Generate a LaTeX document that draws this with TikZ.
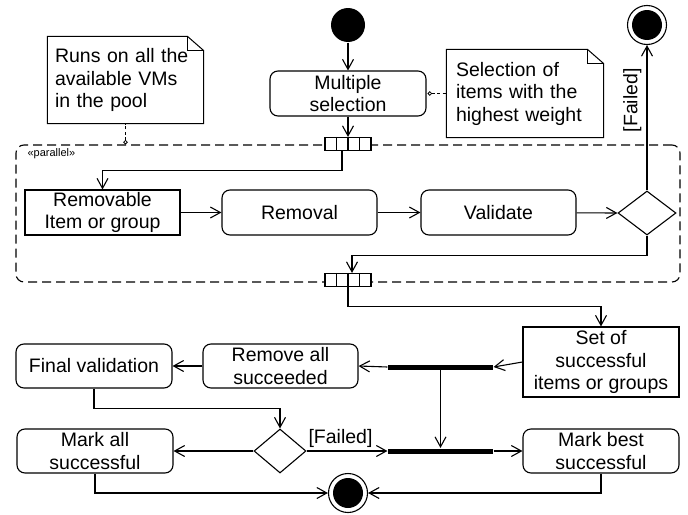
\documentclass[tikz,border=0pt]{standalone}
\usepackage{fontspec}
\setmainfont{Liberation Sans}
\usetikzlibrary{arrows.meta,shapes.geometric,calc}
\begin{document}
\begin{tikzpicture}[x=1pt,y=-1pt,line width=1.1pt,
  every node/.style={font=\fontsize{19.5}{22.5}\selectfont},
  act/.style={draw,rounded corners=8pt,minimum width=155pt,minimum height=44pt,align=center,inner sep=2pt},
  obj/.style={draw,minimum width=155pt,minimum height=45pt,align=center,inner sep=2pt},
  notebox/.style={text width=#1,align=left,inner ysep=4pt,inner xsep=8pt},
  dec/.style={draw,diamond,inner sep=0pt},
  bar/.style={fill=black,minimum width=105pt,minimum height=5pt,inner sep=0pt},
  expn/.style={draw,fill=white,minimum width=46pt,minimum height=13pt,inner sep=0pt},
  startnode/.style={circle,fill=black,minimum size=34pt,inner sep=0pt},
  endnode/.style={circle,draw,fill=white,minimum size=39pt,inner sep=0pt,
     path picture={\fill[black] (path picture bounding box.center) circle (15pt);}},
  arr/.style={-{Straight Barb[length=10pt,width=11pt]}},
  notelink/.style={line width=0.9pt,dash pattern=on 3pt off 2.5pt},
  notepath/.style={line width=1pt}
]
\useasboundingbox (0,0) rectangle (688,514);

% expansion region
\node[draw,dash pattern=on 9pt off 5pt,rounded corners=8pt,minimum width=664pt,minimum height=137pt,inner sep=0pt] (reg) at (348,213.5) {};
\node[anchor=north west,inner sep=0pt,font=\fontsize{11}{12}\selectfont] (par) at (27,148) {«parallel»};

% nodes
\node[startnode] (start) at (348,25) {};
\node[act,minimum width=156pt,minimum height=45pt] (ms) at (348,93.5) {Multiple\\selection};
\node[notebox=138pt,minimum height=87pt,inner xsep=9pt] (n1) at (525,93.5) {Selection of\\items with the\\highest weight};
\node[notebox=141pt,minimum height=86pt,inner xsep=7pt] (n2) at (125.5,80) {Runs on all the\\available VMs\\in the pool};

\node[expn] (e1) at (348,144) {};
\node[expn] (e2) at (348,280) {};

\node[obj] (rem) at (102.5,212.5) {Removable\\Item or group};
\node[act,minimum height=45pt] (removal) at (299.5,212.5) {Removal};
\node[act,minimum height=45pt] (val) at (498.5,212.5) {Validate};
\node[dec,minimum width=58pt,minimum height=44pt] (d1) at (647,213) {};
\node[endnode] (f1) at (647,25) {};

\node[obj,minimum width=156pt,minimum height=70pt] (set) at (601,362) {Set of\\successful\\items or groups};
\node[bar] (b1) at (440.5,367) {};
\node[act] (remall) at (280.5,366) {Remove all\\succeeded};
\node[act,minimum width=156pt] (finval) at (94,366) {Final validation};
\node[bar] (b2) at (440.5,451) {};
\node[act,minimum width=156pt] (best) at (601,451) {Mark best\\successful};
\node[dec,minimum width=52pt,minimum height=44pt] (d2) at (280,451) {};
\node[act,minimum width=156pt] (all) at (95,451) {Mark all\\successful};
\node[endnode] (f2) at (348,493) {};

% note outlines
\draw[notepath] (n1.north west) -- ([xshift=-16pt]n1.north east) -- ([yshift=-14pt]n1.north east) -- (n1.south east) -- (n1.south west) -- cycle;
\draw[notepath] ([xshift=-16pt]n1.north east) |- ([yshift=-14pt]n1.north east);
\draw[notepath] (n2.north west) -- ([xshift=-16pt]n2.north east) -- ([yshift=-14pt]n2.north east) -- (n2.south east) -- (n2.south west) -- cycle;
\draw[notepath] ([xshift=-16pt]n2.north east) |- ([yshift=-14pt]n2.north east);

% note links
\draw[notelink,{Circle[open,length=4.5pt,line width=0.8pt,sep=0pt]}-] ([xshift=1pt]ms.east) -- (n1.west);
\draw[notelink,{Circle[open,length=4.5pt,line width=0.8pt]}-] (n2.south |- reg.north) -- (n2.south);

% expansion node cells
\foreach \e in {e1,e2}
  \foreach \f in {0.25,0.5,0.75}
    \draw ($(\e.north west)!\f!(\e.north east)$) -- ($(\e.south west)!\f!(\e.south east)$);

% flows
\draw[arr] (start) -- (ms);
\draw[arr] (ms.south) -- (e1.north);
\draw[arr] ([xshift=-6pt]e1.south) -- ++(0,19) -| (rem.north);
\draw[arr] (rem) -- (removal);
\draw[arr] (removal) -- (val);
\draw[arr] (val) -- (d1.west);
\draw[arr] (d1.north) -- node[pos=0.62,rotate=90,anchor=south,inner sep=5pt] (lf1) {[Failed]} (f1.south);
\draw[arr] (d1.south) -- ++(0,20) -| ([xshift=4pt]e2.north);
\draw[arr] (e2.south) -- ++(0,19) -| (set.north);
\draw[arr] (set.west) -- (b1.east);
\draw[arr] (b1.west) -- (remall.east);
\draw[arr] (remall.west) -- (finval.east);
\draw[arr] (b1.south) -- (b2.north);
\draw[arr] (b2.east) -- (best.west);
\draw[arr] (finval.south) -- ++(0,20) -| (d2.north);
\draw[arr] (d2.east) -- node[pos=0.42,anchor=south,inner sep=3pt] (lf2) {[Failed]} (b2.west);
\draw[arr] (d2.west) -- (all.east);
\draw[arr] (all.south) |- (f2.west);
\draw[arr] (best.south) |- (f2.east);
\end{tikzpicture}
\end{document}
